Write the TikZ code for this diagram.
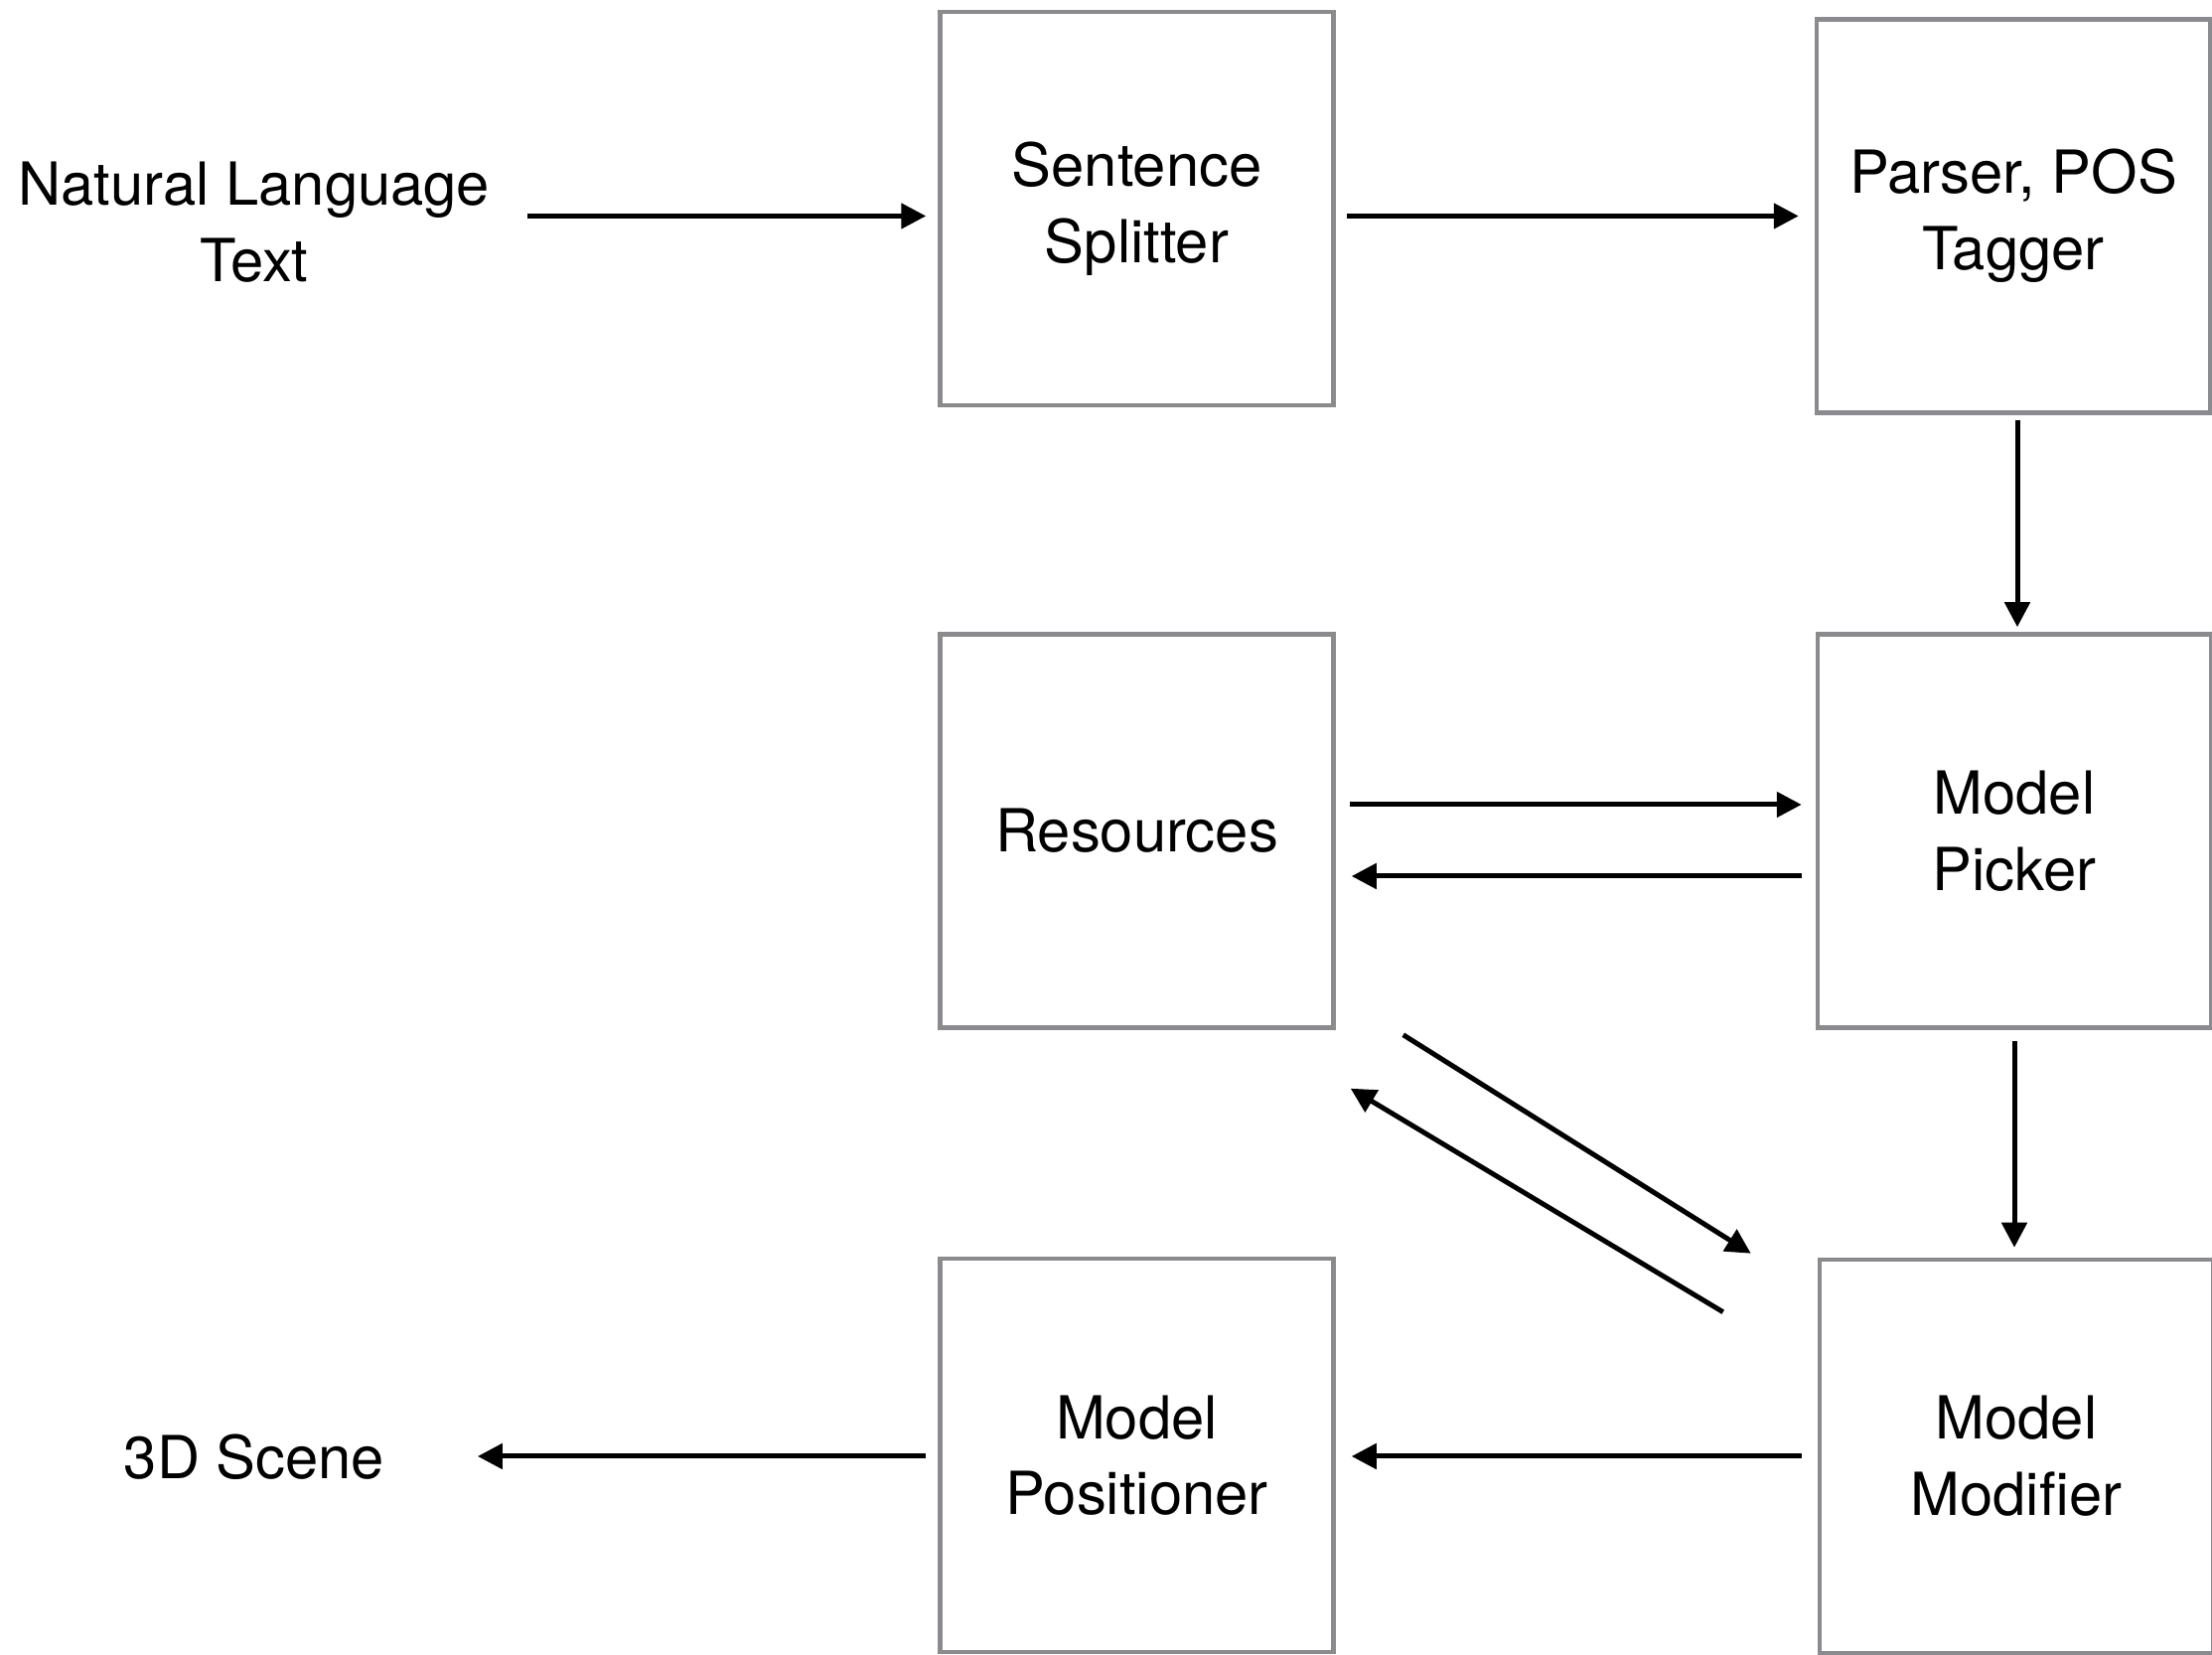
\documentclass[tikz,border=0pt]{standalone}
\usepackage{fontspec}
\setmainfont{TeX Gyre Heros}
\usetikzlibrary{arrows.meta,calc}
\definecolor{boxgray}{RGB}{138,139,143}
\tikzset{
  stage/.style={draw=boxgray, line width=0.045cm, minimum width=3.96cm, minimum height=3.96cm,
    inner sep=0pt, align=center, font=\fontsize{17}{21.8}\selectfont},
  endtext/.style={inner sep=0pt, align=center, font=\fontsize{17}{21.8}\selectfont},
  flow/.style={line width=0.05cm, -{Triangle[length=0.25cm,width=0.25cm]}}
}
\begin{document}
\begin{tikzpicture}
    \useasboundingbox (0,0) rectangle (22.27,16.66);

    % input and output
    \node[endtext] (nl) at (2.56,14.42) {Natural Language\\Text};
    \node[endtext] (scene) at (2.56,1.99) {3D Scene};

    % stages
    \node[stage] (split) at (11.445,14.56) {Sentence\\Splitter};
    \node[stage] (parse) at (20.27,14.485) {Parser, POS\\Tagger};
    \node[stage] (res) at (11.445,8.295) {Resources};
    \node[stage] (pick) at (20.28,8.295) {Model\\Picker};
    \node[stage] (pos) at (11.445,2.01) {Model\\Positioner};
    \node[stage] (mod) at (20.30,2.00) {Model\\Modifier};

    % top row
    \draw[flow, shorten <=0.37cm, shorten >=0.12cm] (nl.east |- parse.west) -- (split.west |- parse.west);
    \draw[flow, shorten <=0.11cm, shorten >=0.16cm] (split.east |- parse.west) -- (parse.west);
    \draw[flow, shorten <=0.05cm, shorten >=0.05cm] ([xshift=0.04cm]parse.south) -- ([xshift=0.04cm]parse.south |- pick.north);

    % resources
    \draw[flow, shorten <=0.14cm, shorten >=0.14cm] ([yshift=0.265cm]res.east) -- ([yshift=0.265cm]res.east -| pick.west);
    \draw[flow, shorten <=0.14cm, shorten >=0.16cm] ([yshift=-0.455cm]pick.west) -- ([yshift=-0.455cm]pick.west -| res.east);
    \draw[flow] ($(res.south east)+(0.68,-0.05)$) -- ($(mod.north west)+(-0.67,0.04)$);
    \draw[flow] ($(mod.north west)+(-0.95,-0.55)$) -- ($(res.south east)+(0.15,-0.59)$);

    % bottom row
    \draw[flow, shorten <=0.11cm, shorten >=0.10cm] (pick.south) -- (pick.south |- mod.north);
    \draw[flow, shorten <=0.16cm, shorten >=0.16cm] (mod.west) -- (mod.west -| pos.east);
    \draw[flow, shorten <=0.12cm, shorten >=0.93cm] (pos.west |- mod.west) -- (scene.east |- mod.west);
\end{tikzpicture}
\end{document}
